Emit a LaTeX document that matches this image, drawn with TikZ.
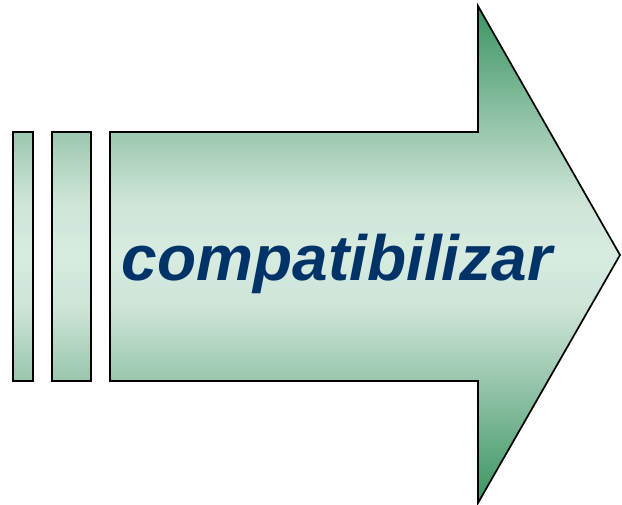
\documentclass[tikz,border=0pt]{standalone}
\usepackage{fontspec}
\setsansfont{Liberation Sans}
\usetikzlibrary{positioning}

\definecolor{dkgreen}{RGB}{58,148,98}
\definecolor{mdgreen}{RGB}{155,200,175}
\definecolor{pagreen}{RGB}{205,228,215}
\definecolor{ltgreen}{RGB}{216,235,224}
\definecolor{textblue}{RGB}{0,51,104}

\pgfdeclareverticalshading{arrowshade}{100bp}{%
  color(0bp)=(dkgreen); color(25bp)=(dkgreen); color(37.75bp)=(mdgreen);
  color(44.6bp)=(pagreen); color(50bp)=(ltgreen); color(55.4bp)=(pagreen);
  color(62.25bp)=(mdgreen); color(75bp)=(dkgreen); color(100bp)=(dkgreen)}

\tikzset{
  outline/.style={shading=arrowshade, draw=black, line width=1.7pt, line join=miter},
  word/.style={text=textblue, font=\sffamily\bfseries\itshape\fontsize{64}{64}\selectfont}
}

\begin{document}
\begin{tikzpicture}[x=1pt, y=-1pt]
  \useasboundingbox (0,0) rectangle (622,505);
  % bars and big arrow, one shading for all
  \shadedraw[outline]
    (13,132) rectangle (33,381)
    (52,132) rectangle (91,381)
    (110,132) -- (478,132) -- (478,6) -- (620,255) -- (478,503) -- (478,381) -- (110,381) -- cycle;
  \node[word, anchor=base] (label) at (337,281) {compatibilizar};
\end{tikzpicture}
\end{document}
